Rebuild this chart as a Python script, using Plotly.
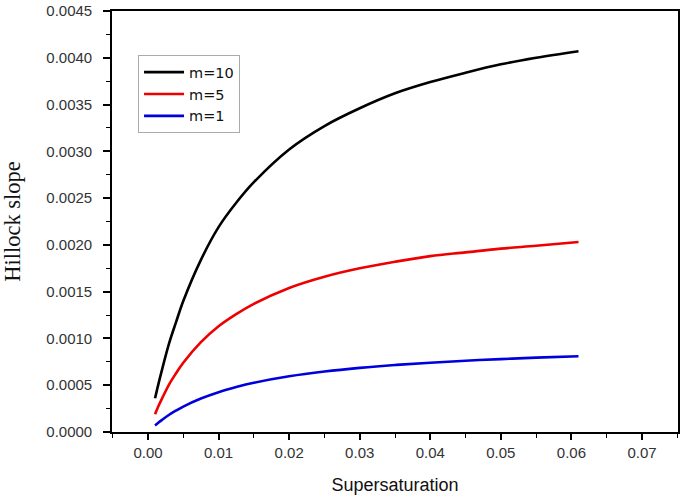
import plotly.graph_objects as go

supersaturation = [0.001, 0.0015, 0.002, 0.003, 0.004, 0.005, 0.0075, 0.01, 0.0125, 0.015,
                   0.02, 0.025, 0.03, 0.035, 0.04, 0.045, 0.05, 0.055, 0.061]
slope_m10 = [0.00036, 0.00052, 0.00067, 0.00095, 0.00118, 0.00140, 0.00184, 0.00219,
             0.00245, 0.00267, 0.00302, 0.00327, 0.00346, 0.00362, 0.00374, 0.00384,
             0.00393, 0.00400, 0.00407]
slope_m5 = [0.00019, 0.00028, 0.00036, 0.00051, 0.00063, 0.00074, 0.00096, 0.00113,
            0.00126, 0.00137, 0.00154, 0.00166, 0.00175, 0.00182, 0.00188, 0.00192,
            0.00196, 0.00199, 0.00203]
slope_m1 = [0.00007, 0.000101, 0.00013, 0.000184, 0.00023, 0.000272, 0.000358, 0.000426,
            0.00048, 0.000526, 0.000595, 0.000646, 0.000685, 0.000716, 0.000741, 0.000762,
            0.000779, 0.000795, 0.00081]

series = [("m=10", slope_m10, "#000000"),
          ("m=5", slope_m5, "#ee0000"),
          ("m=1", slope_m1, "#0000dd")]

x_ticks = [0.0, 0.01, 0.02, 0.03, 0.04, 0.05, 0.06, 0.07]
x_tick_labels = ["0.00", "0.01", "0.02", "0.03", "0.04", "0.05", "0.06", "0.07"]
y_ticks = [0.0, 0.0005, 0.001, 0.0015, 0.002, 0.0025, 0.003, 0.0035, 0.004, 0.0045]
y_tick_labels = ["0.0000", "0.0005", "0.0010", "0.0015", "0.0020", "0.0025",
                 "0.0030", "0.0035", "0.0040", "0.0045"]

fig = go.Figure()
for name, vals, color in series:
    fig.add_trace(go.Scatter(x=supersaturation, y=vals, mode="lines", name=name,
                             line=dict(color=color, width=2.6, shape="spline")))

tickfont = dict(family="Liberation Sans, Arial, sans-serif", size=15, color="#333333")

fig.update_layout(
    width=685, height=502,
    margin=dict(l=112, r=7, t=11, b=70),
    paper_bgcolor="white", plot_bgcolor="white",
    showlegend=True,
    legend=dict(x=0.046, y=0.895, xanchor="left", yanchor="top",
                bordercolor="#aaaaaa", borderwidth=1, bgcolor="white",
                font=dict(family="DejaVu Sans, Liberation Sans, sans-serif", size=14.5,
                          color="#111111"),
                tracegroupgap=0, itemwidth=40),
    xaxis=dict(range=[-0.0051, 0.0751], tickvals=x_ticks, ticktext=x_tick_labels,
               automargin=False,
               showgrid=False, zeroline=False, showline=True, linecolor="black",
               linewidth=1.6, mirror=True, ticks="outside", ticklen=6, tickwidth=1.6,
               tickcolor="black", tickfont=tickfont,
               minor=dict(dtick=0.005, tick0=0.0, ticks="outside", ticklen=4,
                          tickwidth=1.4, tickcolor="black", showgrid=False),
               title=dict(text="Supersaturation", standoff=19,
                          font=dict(family="Liberation Sans, Arial, sans-serif", size=18,
                                    color="#111111"))),
    yaxis=dict(range=[0, 0.0045], tickvals=y_ticks, ticktext=y_tick_labels,
               automargin=False,
               showgrid=False, zeroline=False, showline=True, linecolor="black",
               linewidth=1.6, mirror=True, ticks="outside", ticklen=7, tickwidth=1.6,
               tickcolor="black", tickfont=tickfont, ticklabelstandoff=8,
               minor=dict(dtick=0.00025, tick0=0.0, ticks="outside", ticklen=4,
                          tickwidth=1.4, tickcolor="black", showgrid=False),
               title=dict(text="Hillock slope", standoff=22,
                          font=dict(family="Liberation Serif, Times New Roman, serif", size=22.5,
                                    color="#111111"))),
)

fig.write_html("out.html", config={"displayModeBar": False},
               post_script="document.body.style.margin='0';")
